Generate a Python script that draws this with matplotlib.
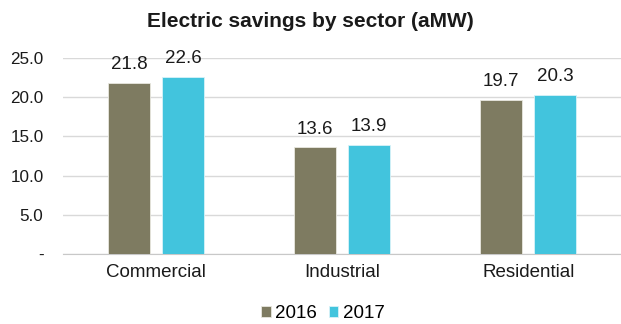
import numpy as np
import matplotlib.pyplot as plt

plt.rcParams['font.family'] = ['Liberation Sans', 'DejaVu Sans']

# data
sectors = ['Commercial', 'Industrial', 'Residential']
years = ['2016', '2017']
savings_2016 = [21.8, 13.6, 19.7]
savings_2017 = [22.6, 13.9, 20.3]
yticks = [0, 5, 10, 15, 20, 25]
ytick_labels = ['-', '5.0', '10.0', '15.0', '20.0', '25.0']

col_2016 = '#7e7b61'
col_2017 = '#42c4dd'

fig = plt.figure(figsize=(6.21, 3.24), dpi=100)
ax = fig.add_axes([0.1014, 0.216, 0.899, 0.605])

x = np.arange(len(sectors))
w = 0.225
off = 0.146
b1 = ax.bar(x - off, savings_2016, w, color=col_2016, edgecolor='#e8e8e0', linewidth=0.6, label=years[0], zorder=3)
b2 = ax.bar(x + off, savings_2017, w, color=col_2017, edgecolor='#d8f2f8', linewidth=0.6, label=years[1], zorder=3)

for bars in (b1, b2):
    for r in bars:
        ax.annotate(f'{r.get_height():.1f}', (r.get_x() + r.get_width() / 2, r.get_height()),
                    xytext=(0, 7), textcoords='offset points', ha='center', va='bottom',
                    fontsize=13.5, color='#1a1a1a')

ax.set_xlim(-0.5, 2.5)
ax.set_ylim(0, 25)
ax.set_xticks(x)
ax.set_xticklabels(sectors, fontsize=13.5, color='#1a1a1a')
ax.set_yticks(yticks)
ax.set_yticklabels(ytick_labels, fontsize=12.3, color='#1a1a1a')
ax.tick_params(axis='y', length=0, pad=14)
ax.tick_params(axis='x', length=0, pad=7)
ax.grid(axis='y', color='#d9d9d9', linewidth=1, zorder=0)
for s in ['top', 'right', 'left']:
    ax.spines[s].set_visible(False)
ax.spines['bottom'].set_color('#c8c8c8')

fig.text(0.5, 0.935, 'Electric savings by sector (aMW)', ha='center', va='center',
         fontsize=15, fontweight='bold', color='#1a1a1a')

fig.legend(loc='center', bbox_to_anchor=(0.52, 0.032), ncol=2, frameon=False,
           fontsize=13.5, handlelength=0.5, handleheight=0.5, handletextpad=0.25,
           columnspacing=0.6, borderpad=0.1)

fig.savefig('out.png', dpi=100)
